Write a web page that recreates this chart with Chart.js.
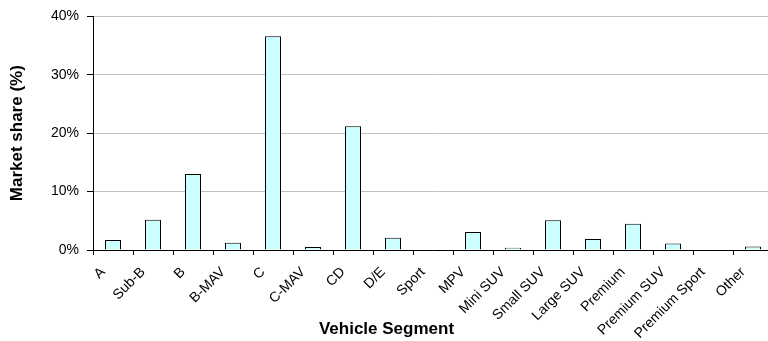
<!DOCTYPE html>
<html>
<head>
<meta charset="utf-8">
<script src="https://cdn.jsdelivr.net/npm/chart.js@4.4.1/dist/chart.umd.min.js"></script>
<style>
    html, body { margin: 0; padding: 0; background: #fff; overflow: hidden; }
    /* kanvas sedikit lebih lebar dari jendela: sisi kanan grafik terpotong seperti gambar aslinya */
    #wadah { position: relative; width: 773px; height: 341px; }
</style>
</head>
<body>
<div id="wadah"><canvas id="segmenChart"></canvas></div>
<script>
// --- Data grafik ---
const segments = ['A', 'Sub-B', 'B', 'B-MAV', 'C', 'C-MAV', 'CD', 'D/E', 'Sport', 'MPV',
    'Mini SUV', 'Small SUV', 'Large SUV', 'Premium', 'Premium SUV', 'Premium Sport', 'Other'];
const marketShare = [1.7, 5.2, 13.0, 1.25, 36.6, 0.5, 21.2, 2.1, 0, 3.1,
    0.4, 5.1, 1.9, 4.5, 1.1, 0, 0.6];
const yTicks = [0, 10, 20, 30, 40];

const fontFamily = '"Liberation Sans", Arial, sans-serif';

document.addEventListener('DOMContentLoaded', () => {
    initializeChart();
});

function initializeChart() {
    const ctx = document.getElementById('segmenChart').getContext('2d');

    new Chart(ctx, {
        type: 'bar',
        data: {
            labels: segments,
            datasets: [{
                label: 'Market share',
                data: marketShare,
                backgroundColor: '#ccffff',
                borderColor: '#000000',
                borderWidth: 1,
                categoryPercentage: 1,
                barPercentage: 0.4
            }]
        },
        options: {
            responsive: true,
            maintainAspectRatio: false,
            animation: false,
            layout: { padding: { top: 15, left: 0, right: 0, bottom: 0 } },
            scales: {
                x: {
                    offset: true,
                    grid: {
                        drawOnChartArea: false,
                        tickColor: '#000000',
                        tickLength: 5,
                        offset: true
                    },
                    border: { color: '#000000', width: 1 },
                    ticks: {
                        color: '#000000',
                        font: { family: fontFamily, size: 14 },
                        minRotation: 45,
                        maxRotation: 45,
                        autoSkip: false,
                        padding: 9,
                        labelOffset: -10
                    },
                    // kotak sumbu x sampai dasar kanvas supaya label miring tidak terpotong
                    afterFit: (scale) => {
                        scale.height = 91;
                        scale.paddingLeft = 0;
                        scale.paddingRight = 0;
                    }
                },
                y: {
                    min: 0,
                    max: 40,
                    afterBuildTicks: (scale) => {
                        scale.ticks = yTicks.map(v => ({ value: v }));
                    },
                    grid: {
                        color: '#c0c0c0',
                        tickColor: '#000000',
                        tickLength: 6
                    },
                    border: { color: '#000000', width: 1 },
                    ticks: {
                        color: '#000000',
                        font: { family: fontFamily, size: 14 },
                        padding: 8,
                        callback: (v) => v + '%'
                    },
                    title: {
                        display: true,
                        text: 'Market share (%)',
                        color: '#000000',
                        font: { family: fontFamily, size: 17, weight: 'bold' },
                        padding: { top: 7, bottom: 0 }
                    },
                    afterFit: (scale) => {
                        scale.width = 93;
                    }
                }
            },
            plugins: {
                legend: { display: false },
                tooltip: { enabled: false },
                // judul sumbu x: tinggi kotaknya nol (padding negatif), jadi tidak memakan ruang
                title: {
                    display: true,
                    position: 'bottom',
                    text: 'Vehicle Segment',
                    color: '#000000',
                    font: { family: fontFamily, size: 17, weight: 'bold' },
                    padding: { top: -22.2, bottom: 1.8 }
                }
            }
        }
    });
}
</script>
</body>
</html>
